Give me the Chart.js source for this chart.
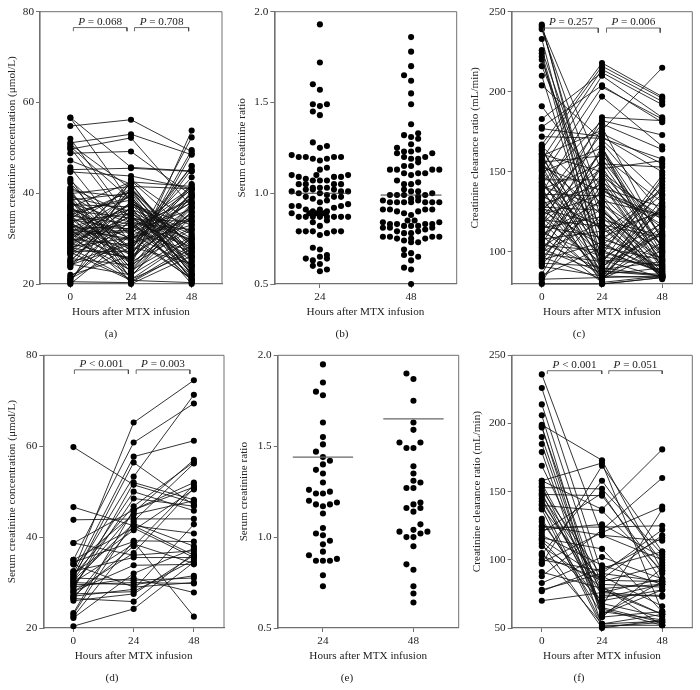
<!DOCTYPE html>
<html>
<head>
<meta charset="utf-8">
<script src="https://cdn.jsdelivr.net/npm/chart.js@4"></script>
<style>
  html, body { margin: 0; padding: 0; background: #fff; }
  #page { position: relative; width: 700px; height: 690px; overflow: hidden; }
  canvas { position: absolute; }
  .cap { position: absolute; font: 11.2px "Liberation Serif", serif; color: #222; transform: translateX(-50%); will-change: transform; }
</style>
</head>
<body>
<div id="page"></div>
<script>
// ---- data ----
var hourTicks = [0, 24, 48];
var ratioHourTicks = [24, 48];
var concTicks = [20, 40, 60, 80];
var ratioTicks = [0.5, 1.0, 1.5, 2.0];
var clearTicksC = [100, 150, 200, 250];
var clearTicksF = [50, 100, 150, 200, 250];

// (a) serum creatinine, every patient at 0, 24, 48 h
var a0 = [56.7,56.6,54.8,52,51.1,50.8,50.3,50,49.7,48.8,
  47.2,45.7,45.2,44.7,43.2,42.8,42.3,41.2,40.9,40.6,
  40.2,39.9,39.6,39.2,38.9,38.5,38.2,37.8,37.5,37.2,
  36.9,36.5,36.2,35.9,35.6,35.2,34.9,34.6,34.2,33.9,
  33.6,33.2,32.9,32.5,32.2,31.9,31.6,31.2,30.9,30.6,
  30.2,29.9,29.6,29.2,28.9,28.6,28.2,27.9,27.6,27.2,
  26.8,26.4,25.6,25.2,24.8,24.4,24,23.7,22,21.6,
  21.2,20.8,20.5,20.2,20,33.1,35.3,31,29.4,37.1,
  28.4,30.4,32.6,27.4,34.4,38.7,26.7,36.7,25,39.4,
  31.4,33.4,29,35,24.2,30,28,32,27,21];
var a24 = [45.7,38,56.2,34,53,41,38.5,33,52.2,49.2,
  42,29,45.5,43.8,24,30.5,27,35,21,39,
  26,41.5,31,36,22.5,40,28,33.5,37,23.5,
  42.5,25,34.5,38.5,30,21.5,27.5,40.5,32,35.5,
  24.5,41,29.5,36.5,20.5,33,26.5,39.5,31.5,37.5,
  23,28.5,42.2,34,25.5,38,30.2,21,35.8,27.2,
  40.2,32.5,24.2,36.2,29.2,22,33.8,41.2,26.2,31.2,
  28.2,37.2,20.3,43,30.8,22.8,39.2,25.2,34.8,27.8,
  36.8,21.8,32.2,40.8,24.8,20,35.2,29.8,38.2,23.2,
  31.8,26.8,42.8,33.2,28.8,37.8,25.8,30,20.8,34.2];
var a48 = [44.9,30,49.2,28,48.5,27,29,22,37,39.5,
  26,33,44.8,41,53.8,38,52.3,25,30,22,
  49.5,41,24,29.5,36,23,46,32,21,40.5,
  41.5,48.7,27.5,22,34,37.5,45.3,25.5,39,28,
  35,23.5,43.5,31,28.5,26,41.8,20.5,36.5,33,
  30.5,39.8,25,21.5,40,29,34.5,27,24,37,
  26.5,38.5,32,23,46,30,20.8,28,35.5,40.8,
  24.5,31.5,27.8,33.5,21,37.8,25.8,39.2,29.8,42,
  22.5,34.8,41.2,28.5,32.5,26.2,20,38,23.8,36.8,
  27.2,39.2,30.8,24.2,41,22.2,35.8,21.2,20.3,33.8];

// (b) ratio swarm: value and column of the swarm
var b24 = [1.93,1.72,1.60,1.57,1.49,1.48,1.49,1.45,1.43,1.28,1.25,1.26,
  1.21,1.20,1.20,1.19,1.18,1.19,1.20,1.20,1.13,1.14,
  1.10,1.09,1.08,1.07,1.10,1.07,1.07,1.09,1.09,1.10,
  1.05,1.05,1.03,1.05,1.05,1.02,1.02,1.03,1.03,1.02,1.01,1.01,1.01,1.00,
  0.98,0.97,1.00,0.99,0.98,0.98,0.95,0.96,
  0.93,0.93,0.91,0.90,0.91,0.90,0.92,0.93,0.94,
  0.89,0.89,0.89,0.88,0.89,
  0.87,0.87,0.87,0.87,0.87,0.87,0.87,0.87,0.84,0.85,0.82,
  0.79,0.79,0.79,0.78,0.79,0.79,0.77,
  0.70,0.69,0.64,0.63,0.65,0.66,0.64,0.60,0.61,0.57,0.58];
var b24Col = [0,0,-1,0,-1,0,1,-1,0,-1,0,1,
  -4,-3,-2,-1,0,1,2,3,0,1,
  -4,-3,-2,-1,-0.5,0,1,2,3,4,
  -3,-2,-1,2,3,-2,-1,0,1,2,3,-4,4,-3,
  -2,-1,0,1,2,3,0,1,
  -4,-3,-2,-1,0,1,2,3,4,
  -4,-1.5,-0.5,0,0.5,
  -3,-2,-1,0,1,2,3,4,-1,1,0,
  -3,-2,-1,1,2,3,0,
  -1,0,-2,-1,0,1,1,-1,0,0,1];
var b48 = [1.86,1.78,1.70,1.65,1.62,1.55,1.49,1.38,
  1.32,1.31,1.33,1.30,1.27,
  1.25,1.22,1.23,1.23,1.24,1.22,1.20,1.19,1.19,1.20,1.17,
  1.15,1.15,1.13,1.13,1.13,1.13,1.11,1.10,1.11,1.11,
  1.07,1.05,1.05,1.06,1.02,1.01,1.01,
  0.99,0.99,0.99,0.98,0.99,1.00,0.97,
  0.96,0.95,0.95,0.95,0.95,0.96,0.95,0.95,0.95,
  0.91,0.91,0.90,0.89,0.88,0.90,0.91,0.91,0.85,0.85,
  0.84,0.83,0.83,0.82,0.82,0.82,0.83,0.83,0.84,
  0.81,0.81,0.79,0.78,0.78,0.79,0.80,0.81,
  0.76,0.76,0.75,0.74,0.75,0.73,0.75,0.76,0.76,0.73,
  0.69,0.66,0.67,0.65,0.63,0.59,0.58,0.50];
var b48Col = [0,0,0,-1,0,0,0,0,
  -1,0,1,1,0,
  -2,-2,-1,0,1,3,-1,0,1,2,1,
  0,-1,-3,-2,3,4,-1,0,1,2,
  -2,-1,0,1,-1,0,1,
  -3,-2,-1,1,2,3,0,
  -4,-3,-2,-1,0,1,2,3,4,
  -4,-3,-2,-1,0,1,2,3,-0.5,0.5,
  -4,-3,-2,-1,0,1,2,3,4,
  -4,-3,-2,-1,0,1,2,3,
  -4,-3,-2,-1,0,1,2,3,4,0,
  -1,-1,0,1,0,-1,0,0];
var bMedians = [1.0, 0.99];

// (c) creatinine clearance
var c0 = [242,241,240,239,233,226,224,222,220,216,
  210,204,191,183,178,177,172,167,166,165,
  164,163,161.5,161,160,159,157.5,157,156,155,
  154,153,152,151,150,148,147,146,145,143.5,
  143,142,141,140,139,138,137,136,135,134,
  133,132,131,130,129,128,127,126,125,124,
  123,122,121,120,119,118,117,116,115,114,
  113,112,111,110,109,108,107,106,105,104,
  103,102,101,100,99,98,97,96,95,94,
  93,92,91,86,85,84,83,81,80,127];
var c24 = [100,108,150,130,90,120,95,85,110,125,
  88,170,140,212,204,172,171,218,130,95,
  216,112,84,150,176,105,214,92,160,123,
  86,138,210,100,165,118,203,82,145,96,
  182,107,128,80,155,90,197,135,115,84,
  168,98,180,142,86,126,152,104,174,88,
  136,162,93,116,83,148,184,109,122,85,
  158,97,132,81,144,113,178,89,164,101,
  127,87,153,119,94,166,83,139,106,147,
  91,134,85,156,103,124,84,143,80,117];
var c48 = [88,96,120,105,85,110,92,84,90,100,
  86,135,128,192,181,150,158,197,98,84,
  196,125,85,104,215,88,194,112,131,95,
  90,122,184,144,108,86,183,130,94,118,
  173,140,87,84,153,127,166,100,84,106,
  124,148,164,89,116,92,157,136,155,85,
  121,99,146,85,113,93,182,126,86,142,
  110,91,123,85,115,138,107,94,102,87,
  83,133,97,84,128,89,101,117,86,122,
  111,84,119,103,95,85,129,91,84,109];

// (d) serum creatinine, second group
var d0 = [59.8,46.6,43.8,38.7,38.7,35,35,34.5,34,34,
  32.5,32.5,32,32,31.5,31.5,31,31,30.5,30.5,
  30,30,29.5,29.5,29,29,28.5,28,28,27.5,
  27,27,26.5,26.5,26,23.3,23,22.5,22.2,20.4];
var d24 = [51.5,42.5,44,46,36,60.8,42,39,45,29,
  65.2,35.5,57.7,41.5,53.3,46.8,56.4,30.5,43,50,
  29.5,38.5,30,45.5,48.5,31,52,33.8,36.5,28,
  38,28.5,25.8,42.5,27.5,46,43.5,39.2,32,24.2];
var d48 = [47.5,36,44,51,37,69.4,35.5,22.5,48,30,
  74.5,35.5,61.2,50.5,71.3,56.5,47,31,38,45.8,
  31.5,34.2,29.8,57,46.8,27.8,48.2,34,50.8,35,
  51.5,42.8,36.5,40.8,36,52,56.2,39,37.5,34.5];

// (e) ratio swarm, second group
var e24 = [1.95,1.85,1.80,1.78,1.63,1.55,1.51,1.47,1.44,1.42,1.40,1.37,1.35,1.30,
  1.26,1.24,1.24,1.25,1.20,1.18,1.17,1.18,1.19,1.13,1.05,1.02,1.01,0.98,0.96,0.92,
  0.90,0.87,0.87,0.87,0.88,0.79,0.73];
var e24Col = [0,0,-1,0,0,0,0,-1,0,1,0,-1,0,0,
  -2,-1,0,1,-2,-1,0,1,2,0,0,-1,0,1,0,0,
  -2,-1,0,1,2,0,0];
var e48 = [1.90,1.87,1.75,1.63,1.59,1.52,1.49,1.49,1.52,1.39,1.35,1.31,1.30,1.27,1.27,
  1.19,1.18,1.16,1.16,1.14,1.07,1.04,1.03,1.00,1.00,1.02,1.03,0.95,0.85,0.82,0.73,0.69,0.64];
var e48Col = [-1,0,0,0,0,-2,-1,0,1,0,0,0,1,-1,0,
  1,0,-1,1,0,1,0,-2,-1,0,1,2,0,-1,0,0,0,0];
var eMedians = [1.44, 1.65];

// (f) creatinine clearance, second group
var f0 = [236,226,214,206,199,198,197,190,185,179,
  169,158,156,154,151,147,145,143,141,138,
  130,124,122,118,116,114,110,104,98,97,
  88,83,78,77,158,153,148,120,140,125,
  115,100,137,112,105,149,128,103,91,70];
var f24 = [118,90,80,60,173,58,72,62,58,52,
  78,137,76,65,88,82,68,74,53,84,
  60,124,126,96,108,70,80,158,120,169,
  122,102,90,94,171,152,147,149,136,118,
  86,92,51,50,53,64,66,85,79,76];
var f48 = [100,84,60,78,92,62,82,56,94,52,
  60,181,86,54,66,80,58,74,55,96,
  84,125,102,82,62,78,52,98,139,106,
  160,86,122,106,62,104,90,84,92,114,
  118,116,54,56,60,52,137,84,82,73];

// P value labels and the brackets under them
var aLabels = ["P = 0.068", "P = 0.708"];
var bracketXa = [[1.2, 22.4], [25.4, 46.8]];
var bracketYa = [76.5, 75.7];
var cLabels = ["P = 0.257", "P = 0.006"];
var bracketXc = [[0.7, 22.5], [25.8, 47.2]];
var bracketYc = [239.8, 236.9];
var dLabels = ["P < 0.001", "P = 0.003"];
var bracketXd = [[0.4, 21.9], [25, 46.4]];
var bracketYd = [76.8, 75.9];
var fLabels = ["P < 0.001", "P = 0.051"];
var bracketXf = [[2.2, 23.9], [26.7, 48]];
var bracketYf = [238.7, 236.3];

// ---- helpers ----
var serif = '"Liberation Serif", serif';
var textSize = 11.2;
var gray = "#707070";
var dotRadius = 3.05;
var swarmStep = 1.855; // hours between swarm columns, about 7px
var medianHalf = 8;

function patientLines(v0, v24, v48) {
  return v0.map(function (v, i) {
    return {
      data: [{ x: 0, y: v }, { x: 24, y: v24[i] }, { x: 48, y: v48[i] }],
      showLine: true,
      borderColor: "#111",
      borderWidth: 0.85,
      pointRadius: dotRadius,
      pointBackgroundColor: "#000",
      pointBorderWidth: 0,
      clip: false,
    };
  });
}

function swarm(hour, values, cols) {
  return {
    data: values.map(function (v, i) {
      return { x: hour + cols[i] * swarmStep, y: v };
    }),
    showLine: false,
    pointRadius: dotRadius,
    pointBackgroundColor: "#000",
    pointBorderWidth: 0,
    clip: false,
  };
}

function medianLine(hour, v, color, width) {
  return {
    data: [{ x: hour - medianHalf, y: v }, { x: hour + medianHalf, y: v }],
    showLine: true,
    borderColor: color,
    borderWidth: width,
    pointRadius: 0,
  };
}

function brackets(xs, ys) {
  return xs.map(function (x) {
    return {
      data: [{ x: x[0], y: ys[1] }, { x: x[0], y: ys[0] }, { x: x[1], y: ys[0] }, { x: x[1], y: ys[1] }],
      showLine: true,
      borderColor: "#444",
      borderWidth: 0.8,
      pointRadius: 0,
    };
  });
}

// frame on top and right, the P labels above the brackets
var framePlugin = {
  id: "frame",
  beforeDatasetsDraw: function (chart) {
    var a = chart.chartArea, c = chart.ctx;
    c.save();
    c.strokeStyle = gray;
    c.lineWidth = 1;
    c.beginPath();
    c.moveTo(a.left, a.top);
    c.lineTo(a.right, a.top);
    c.lineTo(a.right, a.bottom);
    c.stroke();
    c.restore();
  },
  afterDatasetsDraw: function (chart, args, opts) {
    if (!opts.labels) return;
    var c = chart.ctx;
    c.save();
    c.fillStyle = "#222";
    c.textBaseline = "alphabetic";
    opts.labels.forEach(function (text, i) {
      var mid = chart.scales.x.getPixelForValue((opts.xs[i][0] + opts.xs[i][1]) / 2);
      var y = chart.scales.y.getPixelForValue(opts.ys[0]) - 3;
      var rest = text.slice(1);
      c.font = "italic " + textSize + "px " + serif;
      var w1 = c.measureText("P").width;
      c.font = textSize + "px " + serif;
      var w2 = c.measureText(rest).width;
      var start = mid - (w1 + w2) / 2;
      c.font = "italic " + textSize + "px " + serif;
      c.fillText("P", start, y);
      c.font = textSize + "px " + serif;
      c.fillText(rest, start + w1, y);
    });
    c.restore();
  },
};

function panel(p) {
  var page = document.getElementById("page");
  var canvas = document.createElement("canvas");
  var w = p.canvasW;
  var h = p.plotB + 36 - p.canvasT;
  canvas.width = w;
  canvas.height = h;
  canvas.style.left = p.canvasL + "px";
  canvas.style.top = p.canvasT + "px";
  canvas.style.width = w + "px";
  canvas.style.height = h + "px";
  page.appendChild(canvas);

  new Chart(canvas.getContext("2d"), {
    type: "scatter",
    data: { datasets: p.datasets },
    options: {
      responsive: false,
      animation: false,
      layout: { padding: { top: p.plotT - p.canvasT, right: p.canvasL + w - p.plotR, left: 0, bottom: 0 } },
      plugins: {
        legend: { display: false },
        tooltip: { enabled: false },
        frame: { labels: p.labels, xs: p.xs, ys: p.ys },
      },
      scales: {
        x: {
          type: "linear",
          min: p.xMin,
          max: 60,
          afterBuildTicks: function (s) {
            s.ticks = p.xTicks.map(function (v) { return { value: v }; });
          },
          afterFit: function (s) { s.height = 36; },
          grid: { drawOnChartArea: false, tickLength: 4, tickColor: gray, tickWidth: 1 },
          border: { color: gray, width: 1.2 },
          ticks: { color: "#222", padding: 2, maxRotation: 0, font: { family: serif, size: textSize } },
          title: { display: true, text: "Hours after MTX infusion", color: "#222", padding: { top: 0, bottom: 1 }, font: { family: serif, size: textSize } },
        },
        y: {
          min: p.yMin,
          max: p.yMax,
          afterBuildTicks: function (s) {
            s.ticks = p.yTicks.map(function (v) { return { value: v }; });
          },
          afterFit: function (s) { s.width = p.plotL - p.canvasL; },
          grid: { drawOnChartArea: false, tickLength: 4, tickColor: gray, tickWidth: 1 },
          border: { color: gray, width: 1.6 },
          ticks: {
            color: "#222",
            padding: 2,
            font: { family: serif, size: textSize },
            callback: function (v) { return p.decimals ? v.toFixed(p.decimals) : String(v); },
          },
          title: { display: true, text: p.yTitle, color: "#222", padding: { top: p.titleX - p.canvasL - 7, bottom: 0 }, font: { family: serif, size: textSize } },
        },
      },
    },
    plugins: [framePlugin],
  });

  var cap = document.createElement("div");
  cap.className = "cap";
  cap.textContent = p.caption;
  cap.style.left = p.capX + "px";
  cap.style.top = p.capY - 7 + "px";
  page.appendChild(cap);
}

var concTitle = "Serum creatinine concentration (\u03bcmol/L)";
var ratioTitle = "Serum creatinine ratio";
var clearTitle = "Creatinine clearance ratio (mL/min)";

panel({ canvasL: 0, canvasT: 0, canvasW: 232, plotL: 40, plotR: 222, plotT: 11.7, plotB: 284, titleX: 12,
  xMin: -12, xTicks: hourTicks, yMin: 20, yMax: 80, yTicks: concTicks, yTitle: concTitle,
  datasets: brackets(bracketXa, bracketYa).concat(patientLines(a0, a24, a48)),
  labels: aLabels, xs: bracketXa, ys: bracketYa, caption: "(a)", capX: 110.7, capY: 334 });

panel({ canvasL: 232, canvasT: 0, canvasW: 232, plotL: 274.3, plotR: 456.7, plotT: 11.7, plotB: 284, titleX: 242,
  xMin: 12, xTicks: ratioHourTicks, yMin: 0.5, yMax: 2, yTicks: ratioTicks, yTitle: ratioTitle, decimals: 1,
  datasets: [medianLine(24, bMedians[0], "#222", 0.9), medianLine(48, bMedians[1], "#222", 0.9), swarm(24, b24, b24Col), swarm(48, b48, b48Col)],
  caption: "(b)", capX: 341.7, capY: 334 });

panel({ canvasL: 465, canvasT: 0, canvasW: 235, plotL: 511.7, plotR: 692.3, plotT: 11.7, plotB: 284, titleX: 475,
  xMin: -12, xTicks: hourTicks, yMin: 80, yMax: 250, yTicks: clearTicksC, yTitle: clearTitle,
  datasets: brackets(bracketXc, bracketYc).concat(patientLines(c0, c24, c48)),
  labels: cLabels, xs: bracketXc, ys: bracketYc, caption: "(c)", capX: 579.3, capY: 334 });

panel({ canvasL: 0, canvasT: 342, canvasW: 232, plotL: 43.3, plotR: 224, plotT: 355.3, plotB: 628, titleX: 12.7,
  xMin: -12, xTicks: hourTicks, yMin: 20, yMax: 80, yTicks: concTicks, yTitle: concTitle,
  datasets: brackets(bracketXd, bracketYd).concat(patientLines(d0, d24, d48)),
  labels: dLabels, xs: bracketXd, ys: bracketYd, caption: "(d)", capX: 112.3, capY: 678.3 });

panel({ canvasL: 232, canvasT: 342, canvasW: 232, plotL: 277.7, plotR: 458.7, plotT: 355.3, plotB: 628, titleX: 244,
  xMin: 12, xTicks: ratioHourTicks, yMin: 0.5, yMax: 2, yTicks: ratioTicks, yTitle: ratioTitle, decimals: 1,
  datasets: [medianLine(24, eMedians[0], "#666", 1.2), medianLine(48, eMedians[1], "#666", 1.2), swarm(24, e24, e24Col), swarm(48, e48, e48Col)],
  caption: "(e)", capX: 346.7, capY: 678.3 });

panel({ canvasL: 465, canvasT: 342, canvasW: 235, plotL: 511.7, plotR: 692.3, plotT: 355.3, plotB: 628, titleX: 477.7,
  xMin: -12, xTicks: hourTicks, yMin: 50, yMax: 250, yTicks: clearTicksF, yTitle: clearTitle,
  datasets: brackets(bracketXf, bracketYf).concat(patientLines(f0, f24, f48)),
  labels: fLabels, xs: bracketXf, ys: bracketYf, caption: "(f)", capX: 579.3, capY: 678.3 });
</script>
</body>
</html>
